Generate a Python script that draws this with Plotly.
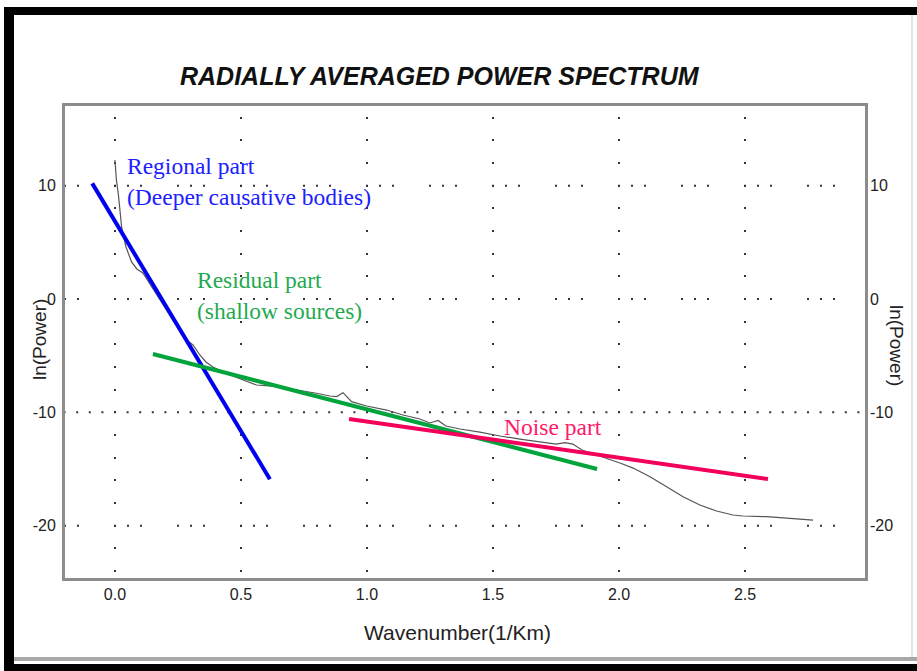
import plotly.graph_objects as go

# ---------------- data ----------------
wavenumber = [0.000, 0.006, 0.014, 0.020, 0.027, 0.044, 0.066, 0.087, 0.111, 0.139,
              0.179, 0.226, 0.278, 0.310, 0.337, 0.361, 0.389, 0.437, 0.496, 0.562,
              0.623, 0.681, 0.742, 0.800, 0.853, 0.880, 0.905, 0.925, 0.939, 0.999,
              1.078, 1.143, 1.210, 1.250, 1.282, 1.313, 1.369, 1.448, 1.528, 1.607,
              1.687, 1.750, 1.786, 1.817, 1.853, 1.925, 2.004, 2.056, 2.123, 2.189,
              2.254, 2.321, 2.387, 2.452, 2.492, 2.586, 2.665, 2.718, 2.770]
ln_power = [12.27, 10.50, 9.18, 7.86, 6.27, 4.59, 3.27, 2.65, 2.29, 1.32,
            -0.09, -1.68, -3.53, -4.06, -4.94, -5.56, -6.00, -6.53, -7.06, -7.59,
            -7.68, -7.88, -8.12, -8.32, -8.56, -8.61, -8.27, -8.74, -9.06, -9.44,
            -9.80, -10.24, -10.59, -10.94, -10.72, -11.21, -11.47, -11.74, -12.09, -12.36,
            -12.62, -12.80, -12.67, -12.80, -13.33, -13.86, -14.47, -14.92, -15.68, -16.57,
            -17.45, -18.18, -18.71, -19.06, -19.15, -19.21, -19.36, -19.44, -19.51]

regional_x = [-0.09, 0.615]
regional_y = [10.2, -15.9]
residual_x = [0.151, 1.913]
residual_y = [-4.85, -15.0]
noise_x = [0.929, 2.591]
noise_y = [-10.59, -15.89]

x_ticks = [0.0, 0.5, 1.0, 1.5, 2.0, 2.5]
x_ticktext = ["0.0", "0.5", "1.0", "1.5", "2.0", "2.5"]
y_ticks = [10, 0, -10, -20]
y_ticktext = ["10", "0", "-10", "-20"]

# ---------------- geometry helpers ----------------
W, H = 917, 671
L, R, T, B = 65, 52, 106, 93
PW, PH = W - L - R, H - T - B


def pxx(X):
    return (X - L) / PW


def pxy(Y):
    return 1 - (Y - T) / PH


BLUE = "#0000f0"
GREEN = "#00a33c"
PINK = "#f2005c"
GRID = "#333333"
AXC = "#8c8c8c"
TXT = "#222222"

fig = go.Figure()
fig.add_trace(go.Scatter(x=wavenumber, y=ln_power, mode="lines",
                         line=dict(color="#555555", width=1.2), hoverinfo="skip"))
fig.add_trace(go.Scatter(x=regional_x, y=regional_y, mode="lines",
                         line=dict(color=BLUE, width=4)))
fig.add_trace(go.Scatter(x=residual_x, y=residual_y, mode="lines",
                         line=dict(color=GREEN, width=4)))
fig.add_trace(go.Scatter(x=noise_x, y=noise_y, mode="lines", yaxis="y2",
                         line=dict(color=PINK, width=4)))

shapes = []
# horizontal dotted grid rows
for yv in [10, 0, -20]:
    shapes.append(dict(type="line", xref="paper", yref="y", x0=0, x1=1, y0=yv, y1=yv,
                       line=dict(color=GRID, width=2,
                                 dash="1px,11px,2px,35px,2px,11px,1px,0px"),
                       layer="below"))
shapes.append(dict(type="line", xref="paper", yref="y", x0=0, x1=1, y0=-10, y1=-10,
                   line=dict(color=GRID, width=2, dash="0.6px,10.6px,1.4px,0px"),
                   layer="below"))


# outer frame of the picture
def rect(x0, y0, x1, y1, color):
    return dict(type="rect", xref="paper", yref="paper",
                x0=pxx(x0), x1=pxx(x1), y0=pxy(y1), y1=pxy(y0),
                fillcolor=color, line=dict(width=0), layer="above")


shapes.append(rect(4, 7, 14, 671, "black"))
shapes.append(rect(4, 7, 917, 15, "black"))
shapes.append(rect(4, 664, 917, 671, "black"))
shapes.append(rect(14, 657, 917, 661, "#a8a8a8"))
shapes.append(rect(911, 15, 913, 657, "#e2e2e2"))

annotations = [
    dict(text="<b><i>RADIALLY AVERAGED POWER SPECTRUM</i></b>", xref="paper", yref="paper",
         x=pxx(440), y=pxy(76), showarrow=False, xanchor="center", yanchor="middle",
         font=dict(family="Liberation Sans, Arial", size=25, color="#111111")),
    dict(text="Wavenumber(1/Km)", xref="paper", yref="paper",
         x=pxx(457), y=pxy(632), showarrow=False, xanchor="center", yanchor="middle",
         font=dict(family="Liberation Sans, Arial", size=21, color=TXT)),
    dict(text="ln(Power)", xref="paper", yref="paper", textangle=-90,
         x=pxx(39), y=pxy(340), showarrow=False, xanchor="center", yanchor="middle",
         font=dict(family="Liberation Sans, Arial", size=19, color=TXT)),
    dict(text="ln(Power)", xref="paper", yref="paper", textangle=90,
         x=pxx(897), y=pxy(345), showarrow=False, xanchor="center", yanchor="middle",
         font=dict(family="Liberation Sans, Arial", size=19, color=TXT)),
    dict(text="Regional part<br>(Deeper causative bodies)", xref="x", yref="y",
         x=0.04, y=10.4, showarrow=False, xanchor="left", yanchor="middle", align="left",
         font=dict(family="Liberation Serif, Times New Roman", size=23.5, color="#2020ff")),
    dict(text="Residual part<br>(shallow sources)", xref="x", yref="y",
         x=0.317, y=0.31, showarrow=False, xanchor="left", yanchor="middle", align="left",
         font=dict(family="Liberation Serif, Times New Roman", size=23.5, color="#1faa50")),
    dict(text="Noise part", xref="x", yref="y",
         x=1.536, y=-11.3, showarrow=False, xanchor="left", yanchor="middle", align="left",
         font=dict(family="Liberation Serif, Times New Roman", size=23.5, color="#ff1a6a")),
]

fig.update_layout(
    width=W, height=H,
    margin=dict(l=L, r=R, t=T, b=B, pad=0),
    paper_bgcolor="white", plot_bgcolor="white",
    showlegend=False,
    shapes=shapes,
    annotations=annotations,
    font=dict(family="Liberation Sans, Arial", color=TXT),
    xaxis=dict(range=[-0.198, 2.976], tickvals=x_ticks, ticktext=x_ticktext,
               ticks="", showgrid=True, gridcolor=GRID, gridwidth=2,
               griddash="0px,10.7px,2px,9.96px", zeroline=False,
               showline=True, linecolor=AXC, linewidth=3, mirror=True,
               tickfont=dict(size=16, color=TXT), ticklabelstandoff=0),
    yaxis=dict(range=[-24.62, 17.03], tickvals=y_ticks, ticktext=y_ticktext,
               ticks="", showgrid=False, zeroline=False,
               showline=True, linecolor=AXC, linewidth=3, mirror=True,
               tickfont=dict(size=16, color=TXT), ticklabelstandoff=3),
    yaxis2=dict(matches="y", tickvals=y_ticks, ticktext=y_ticktext,
                overlaying="y", side="right", anchor="x",
                ticks="", showgrid=False, zeroline=False, showline=False,
                tickfont=dict(size=16, color=TXT), ticklabelstandoff=4),
)

fig.write_html("out.html",
               config={"displayModeBar": False},
               post_script="document.body.style.margin='0';document.body.style.overflow='hidden';")
